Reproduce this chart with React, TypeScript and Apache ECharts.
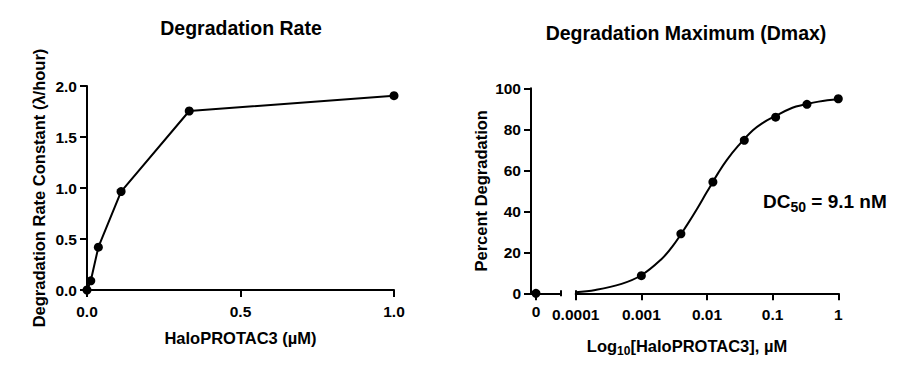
import React, { useEffect, useRef } from 'react';
import * as echarts from 'echarts';

// Left panel: degradation rate constant vs concentration (µM)
const rateConc = [0, 0.0123, 0.037, 0.111, 0.333, 1];
const rateK = [0, 0.09, 0.42, 0.965, 1.755, 1.905];

// Right panel: percent degradation vs concentration (µM)
const zeroDoseConc = [0];
const zeroDosePct = [0];
const dmaxConc = [0.001, 0.004, 0.0123, 0.037, 0.111, 0.333, 1];
const dmaxPct = [8.6, 29, 54.3, 74.6, 85.9, 92.2, 94.9];

// Fitted curve
const fitConc = [0.0001, 0.0002, 0.0005, 0.001, 0.002, 0.003, 0.005, 0.007, 0.01, 0.015, 0.02, 0.03, 0.05, 0.07, 0.1, 0.2, 0.3, 0.5, 1];
const fitPct = [0.5, 1.6, 4.6, 8.8, 16.5, 23, 33.5, 41, 49.5, 59, 65, 72, 79.5, 83, 85.8, 90.5, 92, 93.5, 94.6];

const logTickLabels: Record<string, string> = {
  '-4': '0.0001',
  '-3': '0.001',
  '-2': '0.01',
  '-1': '0.1',
  '0': '1',
};

const FONT = '"Liberation Sans", Arial, Helvetica, sans-serif';
const BLACK = '#000';

export default function App() {
  const ref = useRef<HTMLDivElement>(null);

  useEffect(() => {
    if (!ref.current) return;
    const chart = echarts.init(ref.current, undefined, { renderer: 'svg' });

    const tickLabel = { fontFamily: FONT, fontWeight: 'bold' as const, fontSize: 15.5, color: BLACK };
    const nameStyle = { fontFamily: FONT, fontWeight: 'bold' as const, fontSize: 16.5, color: BLACK };
    const axisLine = { show: true, onZero: false, lineStyle: { color: BLACK, width: 2 } };
    const tickStyle = { lineStyle: { color: BLACK, width: 2 } };
    const dot = { color: BLACK, opacity: 1 };

    const option: any = {
      animation: false,
      backgroundColor: '#fff',
      title: [
        {
          text: 'Degradation Rate',
          left: 241,
          top: 18,
          textAlign: 'center',
          padding: 0,
          textStyle: { fontFamily: FONT, fontWeight: 'bold', fontSize: 19.5, color: BLACK },
        },
        {
          text: 'Degradation Maximum (Dmax)',
          left: 686,
          top: 23,
          textAlign: 'center',
          padding: 0,
          textStyle: { fontFamily: FONT, fontWeight: 'bold', fontSize: 19.5, color: BLACK },
        },
      ],
      grid: [
        { left: 87, right: 524, top: 86, bottom: 85 },
        { left: 531, right: 357.3, top: 88.3, bottom: 81.7 },
        { left: 575.7, right: 79.7, top: 88.3, bottom: 81.7 },
      ],
      xAxis: [
        {
          gridIndex: 0,
          type: 'value',
          min: 0,
          max: 1,
          interval: 0.5,
          axisLine,
          axisTick: { show: true, length: 7, ...tickStyle },
          axisLabel: { ...tickLabel, margin: 13, formatter: (v: number) => v.toFixed(1) },
          splitLine: { show: false },
          name: 'HaloPROTAC3 (µM)',
          nameLocation: 'middle',
          nameGap: 39,
          nameTextStyle: nameStyle,
        },
        {
          gridIndex: 1,
          type: 'value',
          min: -0.2,
          max: 1,
          axisLine,
          axisTick: { show: true, length: 7, customValues: [0], ...tickStyle },
          axisLabel: { ...tickLabel, margin: 10, customValues: [0], formatter: () => '0' },
          splitLine: { show: false },
        },
        {
          gridIndex: 1,
          type: 'value',
          min: -0.2,
          max: 1,
          position: 'bottom',
          offset: -3,
          axisLine: { show: false, onZero: false },
          axisTick: { show: true, length: 6, customValues: [1], ...tickStyle },
          axisLabel: { show: false },
          splitLine: { show: false },
        },
        {
          gridIndex: 2,
          type: 'log',
          logBase: 10,
          min: 0.0001,
          max: 1,
          axisLine,
          axisTick: { show: true, length: 7, ...tickStyle },
          axisLabel: {
            ...tickLabel,
            margin: 13,
            formatter: (v: number) => logTickLabels[String(Math.round(Math.log10(v)))] ?? '',
          },
          splitLine: { show: false },
          minorTick: { show: false },
        },
        {
          gridIndex: 2,
          type: 'value',
          min: 0,
          max: 1,
          position: 'bottom',
          offset: -3,
          axisLine: { show: false, onZero: false },
          axisTick: { show: true, length: 6, customValues: [0], ...tickStyle },
          axisLabel: { show: false },
          splitLine: { show: false },
        },
      ],
      yAxis: [
        {
          gridIndex: 0,
          type: 'value',
          min: 0,
          max: 2,
          interval: 0.5,
          axisLine,
          axisTick: { show: true, length: 7, ...tickStyle },
          axisLabel: { ...tickLabel, margin: 10, formatter: (v: number) => v.toFixed(1) },
          splitLine: { show: false },
          name: 'Degradation Rate Constant (λ/hour)',
          nameLocation: 'middle',
          nameGap: 40,
          nameTextStyle: nameStyle,
        },
        {
          gridIndex: 1,
          type: 'value',
          min: 0,
          max: 100,
          interval: 20,
          axisLine,
          axisTick: { show: true, length: 7, ...tickStyle },
          axisLabel: { ...tickLabel, margin: 10 },
          splitLine: { show: false },
          name: 'Percent Degradation',
          nameLocation: 'middle',
          nameGap: 42,
          nameTextStyle: nameStyle,
        },
        {
          gridIndex: 2,
          type: 'value',
          min: 0,
          max: 100,
          interval: 20,
          show: false,
        },
      ],
      series: [
        {
          type: 'line',
          xAxisIndex: 0,
          yAxisIndex: 0,
          data: rateConc.map((c, i) => [c, rateK[i]]),
          symbol: 'circle',
          symbolSize: 9,
          clip: false,
          itemStyle: dot,
          lineStyle: { color: BLACK, width: 2 },
          z: 5,
        },
        {
          type: 'scatter',
          xAxisIndex: 1,
          yAxisIndex: 1,
          data: zeroDoseConc.map((c, i) => [c, zeroDosePct[i]]),
          symbol: 'circle',
          symbolSize: 9,
          clip: false,
          itemStyle: dot,
          z: 5,
        },
        {
          type: 'line',
          xAxisIndex: 3,
          yAxisIndex: 2,
          data: fitConc.map((c, i) => [c, fitPct[i]]),
          showSymbol: false,
          smooth: 0.4,
          clip: false,
          lineStyle: { color: BLACK, width: 2 },
          z: 3,
        },
        {
          type: 'scatter',
          xAxisIndex: 3,
          yAxisIndex: 2,
          data: dmaxConc.map((c, i) => [c, dmaxPct[i]]),
          symbol: 'circle',
          symbolSize: 9,
          clip: false,
          itemStyle: dot,
          z: 5,
        },
      ],
      graphic: [
        {
          type: 'text',
          x: 687,
          y: 346,
          style: {
            text: '{m|Log}{s|10}{m|[HaloPROTAC3], µM}',
            align: 'center',
            verticalAlign: 'middle',
            rich: {
              m: { fontFamily: FONT, fontWeight: 'bold', fontSize: 16.5, fill: BLACK },
              s: { fontFamily: FONT, fontWeight: 'bold', fontSize: 12, fill: BLACK, padding: [10, 0, 0, 0] },
            },
          },
        },
        {
          type: 'text',
          x: 763,
          y: 201,
          style: {
            text: '{m|DC}{s|50}{m| = 9.1 nM}',
            align: 'left',
            verticalAlign: 'middle',
            rich: {
              m: { fontFamily: FONT, fontWeight: 'bold', fontSize: 19, fill: BLACK },
              s: { fontFamily: FONT, fontWeight: 'bold', fontSize: 14, fill: BLACK, padding: [12, 0, 0, 0] },
            },
          },
        },
      ],
    };

    chart.setOption(option);
    return () => chart.dispose();
  }, []);

  return (
    <div
      ref={ref}
      style={{ position: 'fixed', left: 0, top: 0, width: 918, height: 375, background: '#fff' }}
    />
  );
}
